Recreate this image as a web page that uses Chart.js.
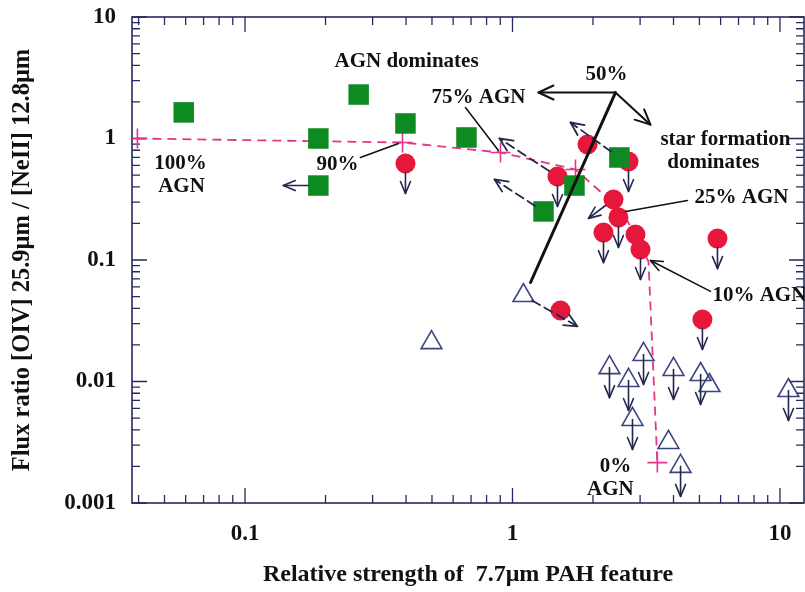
<!DOCTYPE html>
<html>
<head>
<meta charset="utf-8">
<script src="https://cdn.jsdelivr.net/npm/chart.js@4/dist/chart.umd.min.js"></script>
<style>
  html, body { margin: 0; padding: 0; background: #fff; }
  canvas { display: block; }
</style>
</head>
<body>
<canvas id="c" width="805" height="592"></canvas>
<script>
// ---- data: PAH 7.7um strength (x) vs [OIV]/[NeII] flux ratio (y) ----
const squareX = [0.059, 0.188, 0.188, 0.266, 0.398, 0.673, 1.306, 1.705, 2.51];
const squareY = [1.64, 1.0, 0.41, 2.30, 1.33, 1.02, 0.251, 0.41, 0.698];

const circleX = [0.398, 1.908, 1.473, 2.715, 2.386, 2.49, 2.189, 2.883, 3.01, 5.84, 5.13, 1.512];
const circleY = [0.623, 0.892, 0.487, 0.647, 0.315, 0.224, 0.168, 0.162, 0.122, 0.150, 0.0324, 0.0384];
const circleUpper = [true, false, true, true, false, true, true, false, true, true, true, false];

const triangleX = [1.099, 0.498, 2.305, 3.09, 2.715, 2.81, 4.0, 5.05, 5.45, 3.83, 4.25, 10.76];
const triangleY = [0.051, 0.0209, 0.0130, 0.0167, 0.0102, 0.00487, 0.01256, 0.01142, 0.00927, 0.00315, 0.0020, 0.00843];
const triangleUpper = [false, false, true, true, true, true, true, true, false, false, true, true];

// non-vertical limit arrows [x0, y0, x1, y1]
const slantArrows = [
  [0.188, 0.41, 0.139, 0.41],
  [2.386, 0.315, 1.924, 0.22]
];
// dashed arrows [x0, y0, x1, y1]
const dashedArrows = [
  [1.473, 0.487, 0.894, 1.0],
  [1.306, 0.251, 0.857, 0.46],
  [2.51, 0.698, 1.648, 1.354],
  [1.099, 0.051, 1.75, 0.0284]
];

// AGN / starburst mixing curve
const mixPct = ['100%', '90%', '75%', '50%', '25%', '10%', '0%'];
const mixX = [0.0396, 0.388, 0.902, 1.72, 2.577, 3.225, 3.48];
const mixY = [1.0, 0.927, 0.767, 0.556, 0.251, 0.0972, 0.00215];
const mixMarked = [true, true, true, true, false, false, true];

// leader lines [x0, y0, x1, y1, arrowhead, width]
const leaders = [
  [0.270, 0.698, 0.375, 0.91, false, 1.5],
  [0.667, 1.80, 0.886, 0.797, false, 1.5],
  [4.51, 0.309, 2.645, 0.251, false, 1.5],
  [5.50, 0.0551, 3.28, 0.099, true, 1.5],
  [2.427, 2.39, 1.251, 2.39, true, 2],
  [2.427, 2.39, 3.28, 1.30, true, 2]
];
// 50% dividing line
const dividerX = [1.168, 2.427];
const dividerY = [0.0653, 2.39];

// text labels [text, x, y, align]
const notes = [
  ['AGN dominates', 0.4016, 4.30, 'center'],
  ['75% AGN', 0.746, 2.175, 'center'],
  ['50%', 2.246, 3.363, 'center'],
  ['star formation', 6.256, 0.981, 'center'],
  ['dominates', 5.64, 0.635, 'center'],
  ['25% AGN', 7.18, 0.327, 'center'],
  ['10% AGN', 5.59, 0.051, 'left'],
  ['100%', 0.0574, 0.623, 'center'],
  ['AGN', 0.0579, 0.403, 'center'],
  ['90%', 0.2217, 0.611, 'center'],
  ['0%', 2.427, 0.0020, 'center'],
  ['AGN', 2.324, 0.00129, 'center']
];

const xTicks = [0.1, 1, 10];
const yTicks = [0.001, 0.01, 0.1, 1, 10];
const xTitle = 'Relative strength of  7.7\u03bcm PAH feature';
const yTitle = 'Flux ratio [OIV] 25.9\u03bcm / [NeII] 12.8\u03bcm';

const AXIS = '#262a5c';
const INK = '#23264d';
const MAGENTA = '#e8338a';
const FONT = '"Liberation Serif", "Times New Roman", serif';

const pts = (xs, ys) => xs.map((x, i) => ({ x, y: ys[i] }));

function arrow(ctx, x0, y0, x1, y1, head, startOff, hl, hw) {
  const dx = x1 - x0, dy = y1 - y0, L = Math.hypot(dx, dy);
  const ux = dx / L, uy = dy / L;
  ctx.beginPath();
  ctx.moveTo(x0 + ux * startOff, y0 + uy * startOff);
  ctx.lineTo(x1, y1);
  ctx.stroke();
  if (head) {
    ctx.save();
    ctx.setLineDash([]);
    const bx = x1 - ux * hl, by = y1 - uy * hl;
    ctx.beginPath();
    ctx.moveTo(bx - uy * hw, by + ux * hw);
    ctx.lineTo(x1, y1);
    ctx.lineTo(bx + uy * hw, by - ux * hw);
    ctx.stroke();
    ctx.restore();
  }
}

// box and inward log ticks on all four sides
const framePlugin = {
  id: 'frame',
  beforeDatasetsDraw(chart) {
    const { ctx, chartArea: a, scales: { x, y } } = chart;
    ctx.save();
    ctx.strokeStyle = AXIS;
    ctx.lineWidth = 1.6;
    ctx.strokeRect(a.left, a.top, a.right - a.left, a.bottom - a.top);
    ctx.lineWidth = 1.3;
    const minor = 8, major = 15;
    const each = (min, max, fn) => {
      for (let d = Math.floor(Math.log10(min)); d <= Math.ceil(Math.log10(max)); d++) {
        for (let m = 1; m <= 9; m++) {
          const v = m * Math.pow(10, d);
          if (v < min * 0.999 || v > max * 1.001) continue;
          fn(v, m === 1 ? major : minor);
        }
      }
    };
    ctx.beginPath();
    each(x.min, x.max, (v, len) => {
      const px = x.getPixelForValue(v);
      ctx.moveTo(px, a.bottom); ctx.lineTo(px, a.bottom - len);
      ctx.moveTo(px, a.top); ctx.lineTo(px, a.top + len);
    });
    each(y.min, y.max, (v, len) => {
      const py = y.getPixelForValue(v);
      ctx.moveTo(a.left, py); ctx.lineTo(a.left + len, py);
      ctx.moveTo(a.right, py); ctx.lineTo(a.right - len, py);
    });
    ctx.stroke();
    ctx.restore();
  }
};

// limit arrows, leader lines, dividing line and labels
const notesPlugin = {
  id: 'notes',
  afterDatasetsDraw(chart) {
    const { ctx, scales: { x, y } } = chart;
    const P = (vx, vy) => [x.getPixelForValue(vx), y.getPixelForValue(vy)];
    ctx.save();
    ctx.strokeStyle = INK;
    ctx.lineCap = 'round';
    ctx.lineJoin = 'round';

    // upper limits (downward arrows)
    ctx.lineWidth = 1.6;
    const down = (meta, flags, off) => {
      meta.data.forEach((el, i) => {
        if (!flags[i]) return;
        arrow(ctx, el.x, el.y, el.x, el.y + 30, true, off, 12, 5);
      });
    };
    down(chart.getDatasetMeta(3), circleUpper, 9);
    down(chart.getDatasetMeta(4), triangleUpper, 0);

    slantArrows.forEach(([x0, y0, x1, y1]) => {
      const [a, b] = P(x0, y0), [c, d] = P(x1, y1);
      arrow(ctx, a, b, c, d, true, 10, 12, 5);
    });

    ctx.setLineDash([9, 5]);
    ctx.lineWidth = 1.8;
    dashedArrows.forEach(([x0, y0, x1, y1]) => {
      const [a, b] = P(x0, y0), [c, d] = P(x1, y1);
      arrow(ctx, a, b, c, d, true, 10, 13, 6);
    });
    ctx.setLineDash([]);

    ctx.strokeStyle = '#111';
    leaders.forEach(([x0, y0, x1, y1, head, w]) => {
      ctx.lineWidth = w;
      const [a, b] = P(x0, y0), [c, d] = P(x1, y1);
      arrow(ctx, a, b, c, d, head, 0, head && w > 1.8 ? 15 : 12, head && w > 1.8 ? 7 : 5);
    });

    ctx.lineWidth = 3;
    const [d0x, d0y] = P(dividerX[0], dividerY[0]);
    const [d1x, d1y] = P(dividerX[1], dividerY[1]);
    ctx.beginPath(); ctx.moveTo(d0x, d0y); ctx.lineTo(d1x, d1y); ctx.stroke();

    ctx.fillStyle = '#111';
    ctx.font = 'bold 21px ' + FONT;
    ctx.textBaseline = 'middle';
    notes.forEach(([t, vx, vy, al]) => {
      const [px, py] = P(vx, vy);
      ctx.textAlign = al;
      ctx.fillText(t, px, py);
    });
    ctx.restore();
  }
};

new Chart(document.getElementById('c'), {
  type: 'scatter',
  data: {
    datasets: [
      {
        label: 'mixing',
        data: pts(mixX, mixY),
        showLine: true,
        borderColor: MAGENTA,
        borderWidth: 1.8,
        borderDash: [9, 6],
        pointRadius: 0,
        fill: false,
        order: 10
      },
      {
        label: 'mixing steps',
        data: pts(mixX, mixY).filter((p, i) => mixMarked[i]),
        pointStyle: 'cross',
        pointRadius: 10,
        borderColor: MAGENTA,
        borderWidth: 1.6,
        order: 9
      },
      {
        label: 'squares',
        data: pts(squareX, squareY),
        pointStyle: 'rect',
        pointRadius: 14.5,
        backgroundColor: '#0e8a22',
        borderColor: '#0e8a22',
        borderWidth: 0,
        order: 6
      },
      {
        label: 'circles',
        data: pts(circleX, circleY),
        pointStyle: 'circle',
        pointRadius: 10,
        backgroundColor: '#e5173b',
        borderColor: '#e5173b',
        borderWidth: 0,
        order: 7
      },
      {
        label: 'triangles',
        data: pts(triangleX, triangleY),
        pointStyle: 'triangle',
        pointRadius: 12,
        backgroundColor: 'rgba(255,255,255,0)',
        borderColor: '#3d4380',
        borderWidth: 1.6,
        order: 8
      }
    ]
  },
  options: {
    responsive: false,
    devicePixelRatio: 1,
    animation: false,
    events: [],
    layout: { autoPadding: false, padding: { top: 17, right: 1, left: 0, bottom: 0 } },
    plugins: { legend: { display: false }, tooltip: { enabled: false } },
    scales: {
      x: {
        type: 'logarithmic',
        min: 0.0378,
        max: 12.3,
        grid: { display: false },
        border: { display: false },
        afterBuildTicks: s => { s.ticks = xTicks.map(v => ({ value: v })); },
        afterFit: s => { s.height = 89; s.paddingLeft = 0; s.paddingRight = 0; },
        ticks: {
          color: '#111',
          font: { family: FONT, size: 23, weight: 'bold' },
          padding: 9,
          maxRotation: 0,
          autoSkip: false,
          callback: v => String(v)
        },
        title: {
          display: true,
          text: xTitle,
          color: '#111',
          font: { family: FONT, size: 24, weight: 'bold' },
          padding: { top: 0, bottom: 3 }
        }
      },
      y: {
        type: 'logarithmic',
        min: 0.001,
        max: 10,
        grid: { display: false },
        border: { display: false },
        afterBuildTicks: s => { s.ticks = yTicks.map(v => ({ value: v })); },
        afterFit: s => { s.width = 132; s.paddingTop = 0; s.paddingBottom = 0; },
        ticks: {
          color: '#111',
          font: { family: FONT, size: 23, weight: 'bold' },
          padding: 8,
          autoSkip: false,
          callback: v => String(v)
        },
        title: {
          display: true,
          text: yTitle,
          color: '#111',
          font: { family: FONT, size: 24.5, weight: 'bold' },
          padding: { top: 8, bottom: 0 }
        }
      }
    }
  },
  plugins: [framePlugin, notesPlugin]
});
</script>
</body>
</html>
